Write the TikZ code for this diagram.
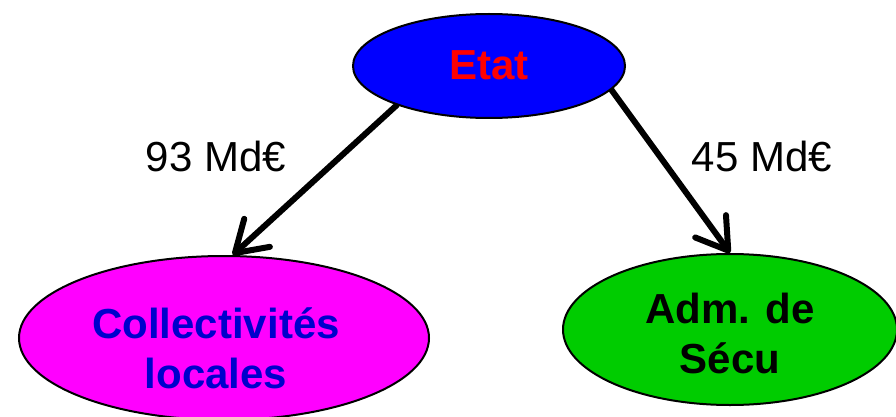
\documentclass[tikz,border=0pt]{standalone}
\usepackage{fontspec}
\setmainfont{Liberation Sans}
\usetikzlibrary{arrows.meta,shapes.geometric,backgrounds}
\definecolor{etatblue}{RGB}{0,0,255}
\definecolor{etatred}{RGB}{255,0,0}
\definecolor{collmag}{RGB}{255,0,255}
\definecolor{colltxt}{RGB}{0,0,204}
\definecolor{secugreen}{RGB}{0,204,0}
\begin{document}
\begin{tikzpicture}[x=1pt,y=-1pt,
  blob/.style={ellipse, draw=black, line width=2pt, inner sep=0pt},
  bigtxt/.style={font=\fontsize{42}{50}\selectfont\bfseries, align=center, anchor=base, inner sep=0pt},
  amount/.style={font=\fontsize{42}{50}\selectfont, anchor=base, inner sep=0pt},
  flow/.style={line width=6pt, line cap=round, -{Straight Barb[length=30pt,width=38pt,line cap=round,line join=round]}}]
\useasboundingbox (0,0) rectangle (896,417);
\node[blob, fill=etatblue, minimum width=272pt, minimum height=104pt] (etat) at (489,66) {};
\node[blob, fill=collmag, minimum width=410pt, minimum height=164pt] (coll) at (224,338) {};
\node[blob, fill=secugreen, minimum width=334pt, minimum height=151pt] (secu) at (730,329.5) {};
\node[bigtxt, text=etatred] (etattxt) at (489,80) {Etat};
\node[bigtxt, text=colltxt] (colltext) at (216,388) {Collectivités\\locales};
\node[bigtxt, text=black] (secutxt) at (730,373) {Adm. de\\Sécu};
\node[amount] (lab1) at (216,171) {93 Md€};
\node[amount] (lab2) at (762,171) {45 Md€};
\begin{scope}[on background layer]
\draw[flow] (etat.203) -- (coll.84);
\draw[flow] (etat.349) -- (secu.90);
\end{scope}
\end{tikzpicture}
\end{document}
